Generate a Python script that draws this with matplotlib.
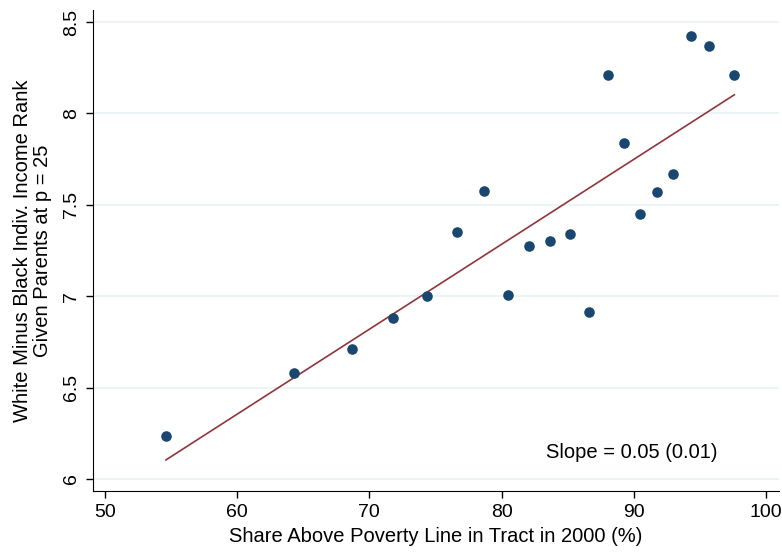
import matplotlib
matplotlib.use("Agg")
import matplotlib.pyplot as plt
import numpy as np

plt.rcParams["font.family"] = ["Liberation Sans", "DejaVu Sans"]

# binned scatter values
share_above = [54.61, 64.30, 68.66, 71.76, 74.38, 76.60, 78.69, 80.48, 82.10, 83.64,
               85.17, 86.61, 88.02, 89.26, 90.49, 91.75, 92.99, 94.35, 95.71, 97.61]
rank_gap = [6.237, 6.581, 6.709, 6.878, 7.002, 7.351, 7.574, 7.004, 7.277, 7.301,
            7.343, 6.913, 8.213, 7.838, 7.450, 7.572, 7.667, 8.423, 8.368, 8.213]

# fitted line as drawn (ends at first and last bin)
fit_x = [54.61, 97.61]
fit_y = [6.104, 8.102]

xticks = [50, 60, 70, 80, 90, 100]
yticks = [6, 6.5, 7, 7.5, 8, 8.5]
ytick_labels = ["6", "6.5", "7", "7.5", "8", "8.5"]

navy = "#1a476f"
maroon = "#90353b"

fig = plt.figure(figsize=(7.82, 5.55), dpi=100)
ax = fig.add_axes([0.1185, 0.1153, 0.8775, 0.8667])

for y in yticks:
    ax.axhline(y, color="#eaf2f3", lw=1.2, zorder=0)

ax.scatter(share_above, rank_gap, s=58, color=navy, zorder=3, linewidths=0)
ax.plot(fit_x, fit_y, color=maroon, lw=1.2, zorder=2)

ax.text(89.86, 6.144, "Slope = 0.05 (0.01)", ha="center", va="center", fontsize=14.5)

ax.set_xlim(49.07, 100.98)
ax.set_ylim(5.934, 8.566)
ax.set_xticks(xticks)
ax.set_yticks(yticks)
ax.set_yticklabels(ytick_labels, rotation=90, va="center")
ax.tick_params(direction="out", length=5, width=1, labelsize=14, pad=4)

ax.spines["top"].set_visible(False)
ax.spines["right"].set_visible(False)

ax.set_xlabel("Share Above Poverty Line in Tract in 2000 (%)", fontsize=14.5, labelpad=5)
ax.set_ylabel("White Minus Black Indiv. Income Rank\nGiven Parents at p = 25",
              fontsize=14.5, labelpad=8, linespacing=1.05)

fig.savefig("out.png", dpi=100)
